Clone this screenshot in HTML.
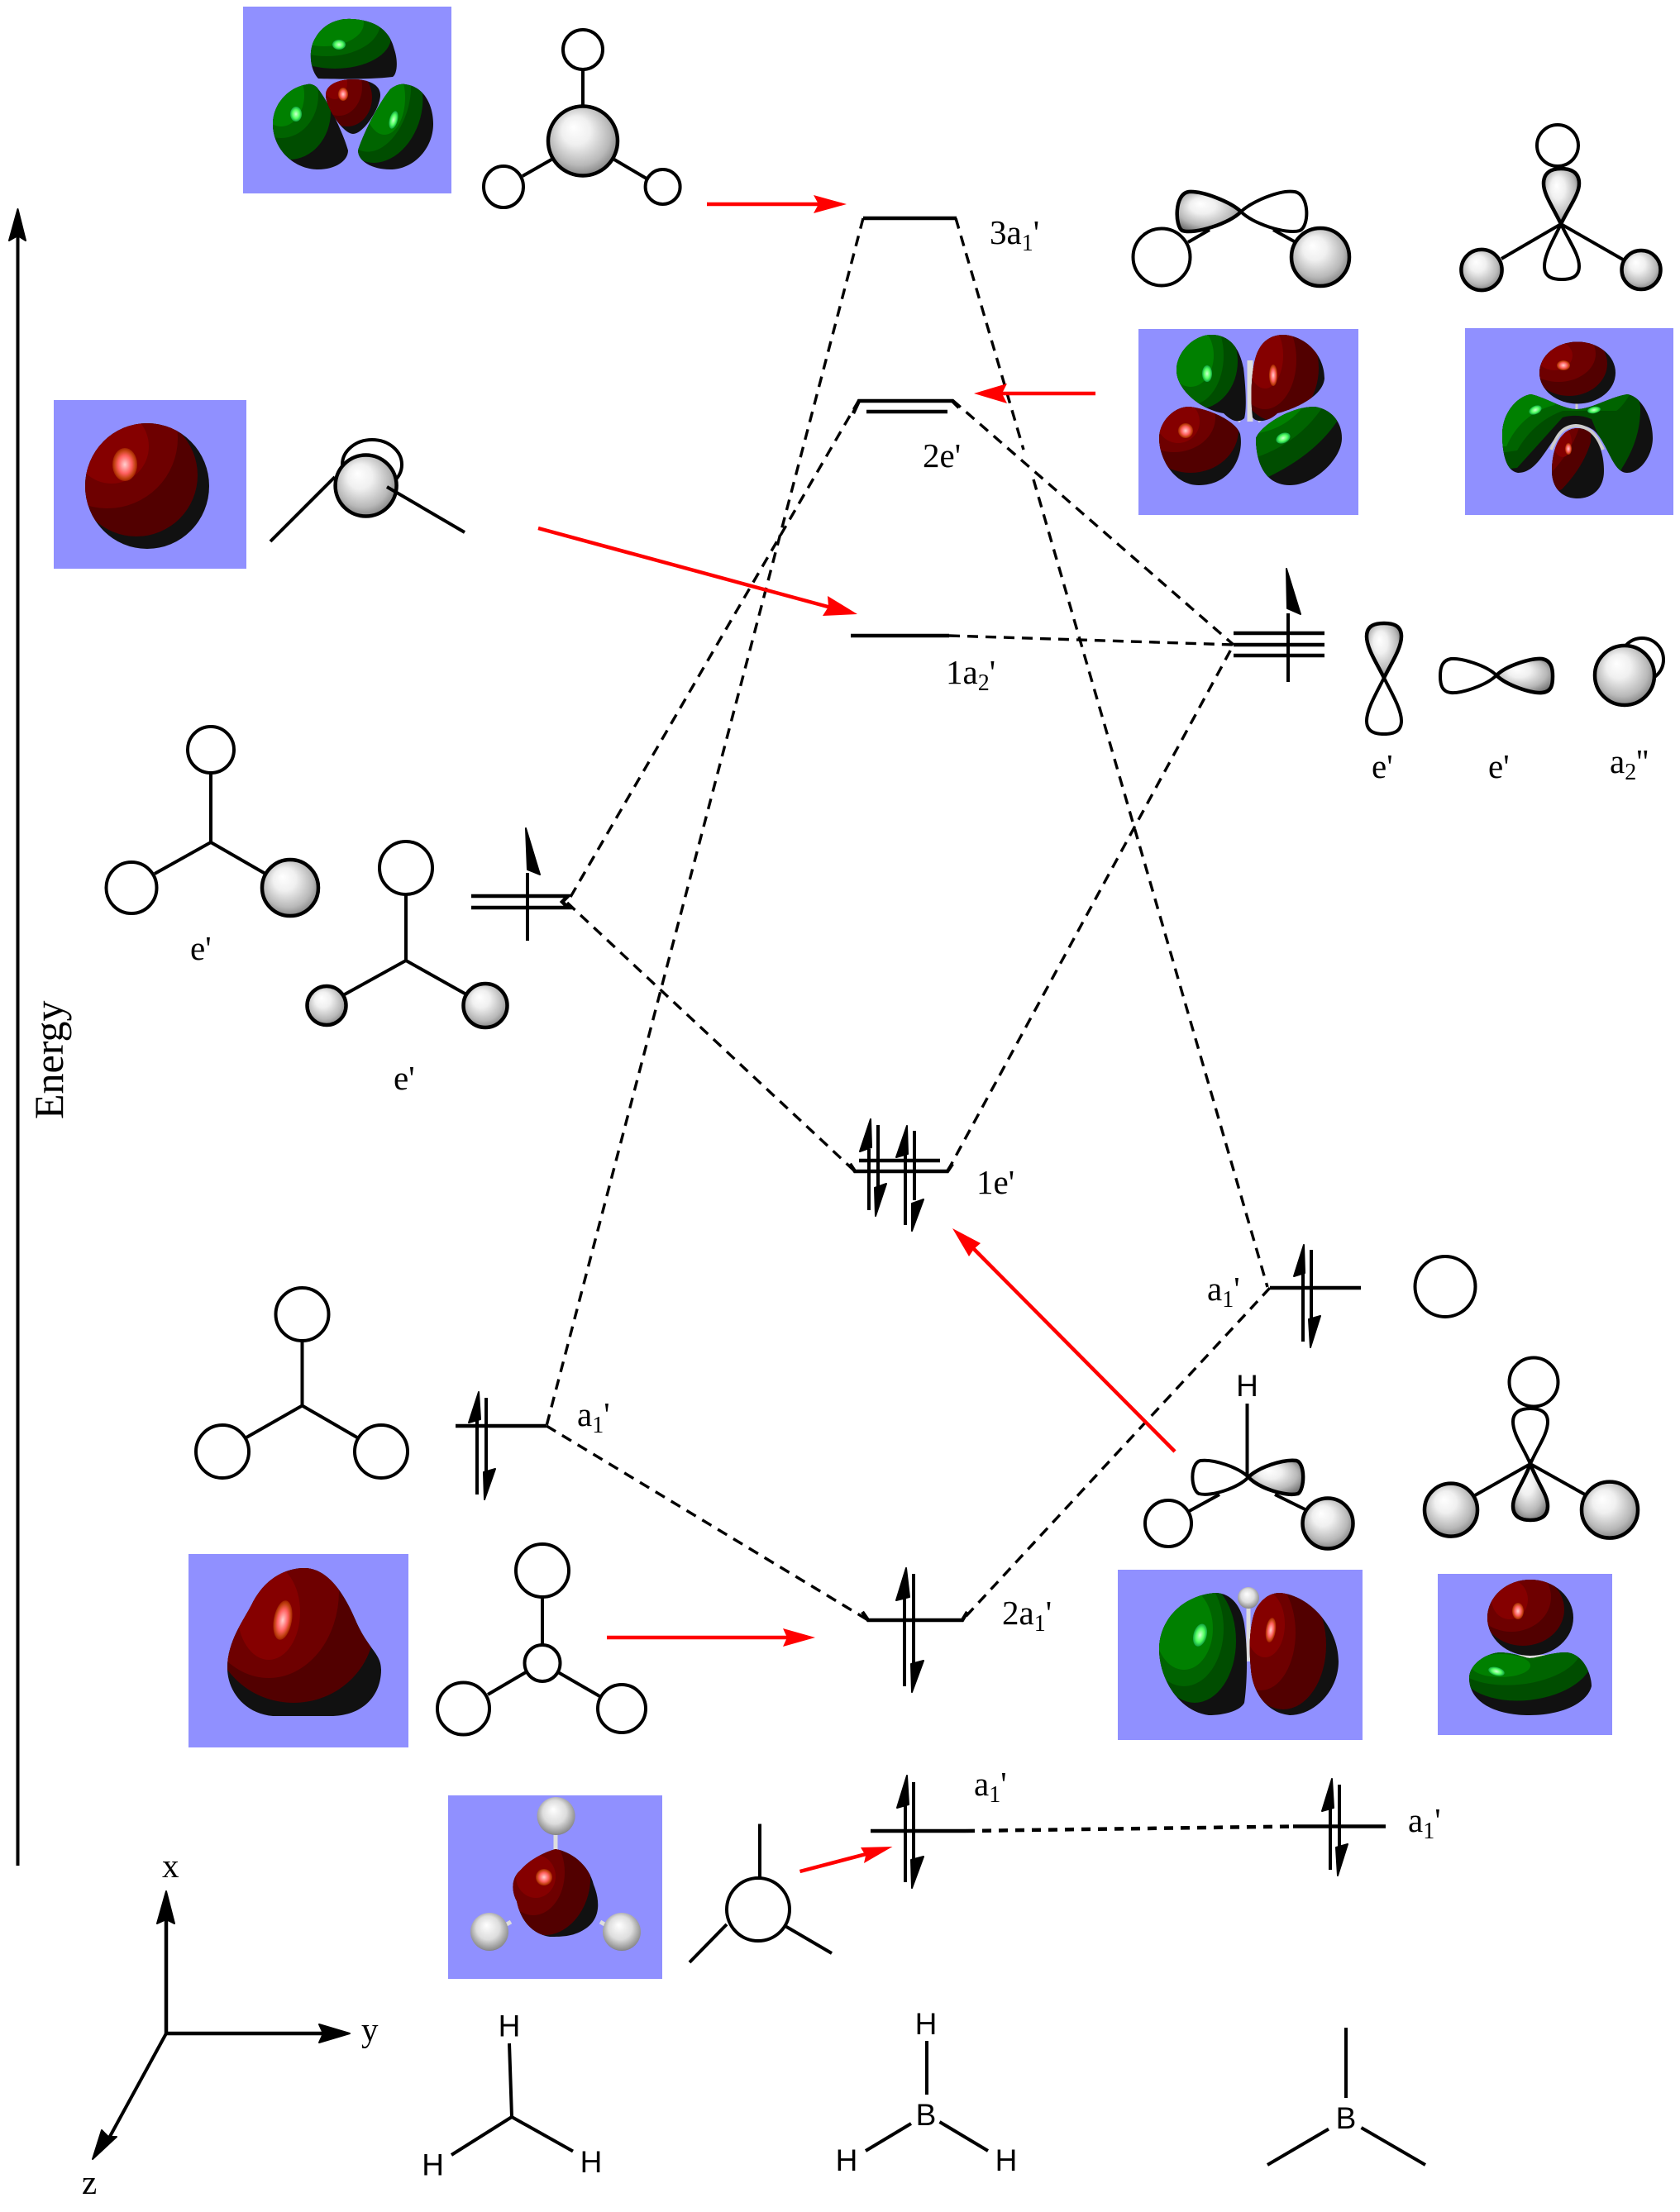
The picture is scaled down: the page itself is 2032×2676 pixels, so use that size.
<!DOCTYPE html>
<html><head><meta charset="utf-8">
<style>
html,body{margin:0;padding:0;background:#fff}
svg{display:block}
.t{font-family:"Liberation Serif",serif;font-size:41px;fill:#000}
.s{font-family:"Liberation Sans",sans-serif;font-size:37px;fill:#000;text-anchor:middle}
.l{stroke:#000;stroke-width:4;fill:none}
.lv{stroke:#000;stroke-width:4.5;fill:none}
.d{stroke:#000;stroke-width:3.4;stroke-dasharray:13 9;fill:none}
.w{fill:#fff;stroke:#000;stroke-width:4}
.g{fill:url(#gray);stroke:#000;stroke-width:4.5}
.bl{fill:#9090ff}
.k{fill:#000;stroke:#000;stroke-width:2;stroke-linejoin:round}
.rd{fill:#520000}.rm{fill:#6e0000}.rl{fill:#850000}
.gd{fill:#004d00}.gm{fill:#006400}.gl{fill:#008000}
.hr{fill:url(#hr)}.hg{fill:url(#hg)}
.red{stroke:#f00;stroke-width:4.5;fill:none}
.rf{fill:#f00}
</style></head>
<body>
<svg xmlns="http://www.w3.org/2000/svg" width="2032" height="2676" viewBox="0 0 2032 2676">
<defs>
<radialGradient id="gray" cx=".5" cy=".47" r=".68" fx=".36" fy=".3">
<stop offset="0" stop-color="#fff"/><stop offset=".3" stop-color="#f0f0f0"/><stop offset=".65" stop-color="#b8b8b8"/><stop offset=".9" stop-color="#707070"/><stop offset="1" stop-color="#404040"/>
</radialGradient>
<radialGradient id="ball" cx=".5" cy=".47" r=".62" fx=".42" fy=".32">
<stop offset="0" stop-color="#fff"/><stop offset=".5" stop-color="#ddd"/><stop offset=".85" stop-color="#8e8e8e"/><stop offset="1" stop-color="#555"/>
</radialGradient>
<radialGradient id="hr"><stop offset="0" stop-color="#ffd0d0"/><stop offset=".55" stop-color="#ff6060"/><stop offset=".85" stop-color="#c04010"/><stop offset="1" stop-color="#a02000"/></radialGradient>
<radialGradient id="hg"><stop offset="0" stop-color="#d0ffd0"/><stop offset=".6" stop-color="#50ff60"/><stop offset="1" stop-color="#10a040"/></radialGradient>
<clipPath id="c1"><path d="M385,95 C375,85 372,60 382,45 C392,28 410,22 425,23 C445,24 470,30 477,60 C482,75 480,90 475,93 C450,96 410,96 385,95Z"/></clipPath>
<clipPath id="c2"><path d="M372,102 C350,105 330,125 330,150 C330,180 355,205 385,205 C405,205 421,195 421,182 C415,160 395,120 385,108 C382,103 376,101 372,102Z"/></clipPath>
<clipPath id="c3"><path d="M490,102 C515,105 524,130 524,150 C524,180 500,205 472,205 C450,205 433,195 433,182 C440,160 458,125 472,108 C478,103 485,101 490,102Z"/></clipPath>
<clipPath id="c4"><path d="M394,115 C394,102 410,96 427,96 C445,96 460,102 460,115 C460,130 440,162 427,162 C415,162 394,130 394,115Z"/></clipPath>
<clipPath id="c5"><ellipse cx="178" cy="588" rx="75" ry="76"/></clipPath>
<clipPath id="c6"><path d="M1465,405 C1490,405 1500,425 1504,445 C1507,470 1508,495 1505,506 C1498,512 1490,510 1480,500 C1450,495 1423,470 1423,448 C1423,425 1445,405 1465,405Z"/></clipPath>
<clipPath id="c7"><path d="M1553,405 C1580,407 1602,430 1602,458 C1600,480 1565,495 1545,500 C1535,510 1520,512 1515,505 C1512,480 1514,450 1518,435 C1523,415 1535,405 1553,405Z"/></clipPath>
<clipPath id="c8"><path d="M1438,492 C1465,495 1495,510 1500,525 C1505,550 1490,587 1450,587 C1420,587 1402,555 1402,530 C1402,510 1420,492 1438,492Z"/></clipPath>
<clipPath id="c9"><path d="M1590,492 C1610,495 1623,510 1623,530 C1623,555 1590,587 1560,587 C1530,587 1519,560 1519,530 C1525,515 1560,492 1590,492Z"/></clipPath>
<clipPath id="c10"><ellipse cx="1908" cy="451" rx="46" ry="37.5"/></clipPath>
<clipPath id="c11"><path d="M1852,477 C1870,481 1890,495 1907,495 C1925,495 1945,481 1968,477 C1985,479 1999,505 1999,530 C1999,550 1985,572 1968,572 C1950,572 1945,535 1927,520 C1915,512 1900,512 1888,522 C1870,540 1860,572 1836,572 C1822,570 1817,550 1817,525 C1817,500 1835,479 1852,477Z"/></clipPath>
<clipPath id="c12"><path d="M1908,518 C1927,518 1940,540 1940,570 C1940,590 1927,603 1908,603 C1889,603 1877,590 1877,570 C1877,540 1889,518 1908,518Z"/></clipPath>
<clipPath id="c13"><path d="M368,1897 C395,1897 415,1925 430,1960 C445,1995 461,2000 461,2020 C461,2050 440,2076 400,2076 L330,2076 C295,2073 275,2045 275,2018 C275,1985 295,1960 305,1940 C320,1910 345,1897 368,1897Z"/></clipPath>
<clipPath id="c14"><path d="M1470,1927 C1490,1927 1502,1945 1505,1965 C1510,2000 1508,2040 1505,2060 C1500,2070 1480,2075 1462,2075 C1425,2070 1402,2030 1402,1995 C1402,1960 1430,1930 1470,1927Z"/></clipPath>
<clipPath id="c15"><path d="M1548,1927 C1585,1930 1619,1970 1619,2010 C1619,2045 1590,2075 1560,2075 C1530,2072 1515,2045 1513,2020 C1510,1990 1512,1960 1520,1945 C1528,1932 1538,1927 1548,1927Z"/></clipPath>
<clipPath id="c16"><ellipse cx="1851" cy="1957" rx="52" ry="46"/></clipPath>
<clipPath id="c17"><path d="M1815,1999 C1835,2000 1845,2006 1850,2006 C1860,2006 1875,1999 1895,1999 C1915,2001 1925,2025 1925,2040 C1920,2060 1890,2075 1850,2075 C1810,2075 1777,2060 1777,2030 C1777,2015 1795,2000 1815,1999Z"/></clipPath>
<clipPath id="c18"><path d="M672,2237 C690,2240 712,2255 718,2280 C726,2300 726,2320 710,2332 C695,2343 680,2343 665,2343 C645,2340 630,2325 625,2300 C617,2285 620,2270 630,2262 C640,2250 660,2240 672,2237Z"/></clipPath>
</defs>
<rect width="2032" height="2676" fill="#fff"/>

<!-- blue panels -->
<rect class="bl" x="294" y="8" width="252" height="226"/>
<rect class="bl" x="65" y="484" width="233" height="204"/>
<rect class="bl" x="1377" y="398" width="266" height="225"/>
<rect class="bl" x="1772" y="397" width="252" height="226"/>
<rect class="bl" x="228" y="1880" width="266" height="234"/>
<rect class="bl" x="1352" y="1899" width="296" height="206"/>
<rect class="bl" x="1739" y="1904" width="211" height="195"/>
<rect class="bl" x="542" y="2172" width="259" height="222"/>

<!-- orbital blobs: panel 1 -->
<g clip-path="url(#c1)"><rect width="2032" height="2676" fill="#111"/><ellipse class="gd" cx="405" cy="45" rx="68" ry="38"/><ellipse class="gm" cx="395" cy="28" rx="65" ry="40"/><ellipse class="gl" cx="392" cy="28" rx="48" ry="28"/><ellipse class="hg" cx="410" cy="54" rx="8" ry="6"/></g>
<g clip-path="url(#c2)"><rect width="2032" height="2676" fill="#111"/><ellipse class="gd" cx="350" cy="135" rx="50" ry="58"/><ellipse class="gm" cx="340" cy="115" rx="45" ry="52"/><ellipse class="gl" cx="340" cy="115" rx="28" ry="38"/><ellipse class="hg" cx="358" cy="138" rx="7" ry="9"/></g>
<g clip-path="url(#c3)"><rect width="2032" height="2676" fill="#111"/><ellipse class="gd" cx="460" cy="130" rx="50" ry="68" transform="rotate(15 460 130)"/><ellipse class="gm" cx="455" cy="120" rx="40" ry="65" transform="rotate(15 455 120)"/><ellipse class="gl" cx="465" cy="118" rx="25" ry="45"/><ellipse class="hg" cx="476" cy="145" rx="5" ry="11" transform="rotate(15 476 145)"/></g>
<g clip-path="url(#c4)"><rect width="2032" height="2676" fill="#111"/><ellipse class="rd" cx="420" cy="118" rx="30" ry="35"/><ellipse class="rm" cx="410" cy="105" rx="28" ry="35"/><ellipse class="rl" cx="405" cy="100" rx="15" ry="20"/><ellipse class="hr" cx="415" cy="114" rx="6" ry="8"/></g>
<!-- panel 2 -->
<g clip-path="url(#c5)"><rect width="2032" height="2676" fill="#111"/><circle class="rd" cx="165" cy="575" r="74"/><circle class="rm" cx="130" cy="530" r="85"/><circle class="rl" cx="135" cy="540" r="45"/><ellipse class="hr" cx="151" cy="562" rx="15" ry="20"/></g>
<!-- panel 3 -->
<path d="M1512,436 V510" stroke="#ddd" stroke-width="7"/>
<path d="M1500,510 L1490,503 M1522,510 L1532,503" stroke="#ddd" stroke-width="3"/>
<g clip-path="url(#c6)"><rect width="2032" height="2676" fill="#111"/><ellipse class="gd" cx="1448" cy="437" rx="49" ry="58"/><ellipse class="gm" cx="1440" cy="430" rx="40" ry="60"/><ellipse class="gl" cx="1440" cy="430" rx="28" ry="38"/><ellipse class="hg" cx="1460" cy="452" rx="6" ry="10"/></g>
<g clip-path="url(#c7)"><rect width="2032" height="2676" fill="#111"/><ellipse class="rd" cx="1545" cy="445" rx="50" ry="65"/><ellipse class="rm" cx="1530" cy="435" rx="38" ry="60"/><ellipse class="rl" cx="1530" cy="430" rx="22" ry="40"/><ellipse class="hr" cx="1540" cy="454" rx="5" ry="13"/></g>
<g clip-path="url(#c8)"><rect width="2032" height="2676" fill="#111"/><ellipse class="rd" cx="1440" cy="520" rx="58" ry="52"/><ellipse class="rm" cx="1420" cy="505" rx="50" ry="42"/><ellipse class="rl" cx="1425" cy="510" rx="26" ry="26"/><ellipse class="hr" cx="1434" cy="521" rx="9" ry="9"/></g>
<g clip-path="url(#c9)"><rect width="2032" height="2676" fill="#111"/><path class="gd" d="M1500,480 H1630 L1617,510 Q1590,550 1534,577 L1500,590Z"/><path class="gm" d="M1500,480 H1610 L1598,495 Q1570,535 1523,552 L1500,560Z"/><path class="gl" d="M1500,480 H1585 Q1560,520 1515,525Z"/><ellipse class="hg" cx="1552" cy="530" rx="9" ry="6" transform="rotate(-25 1552 530)"/></g>
<!-- panel 4 -->
<path d="M1907,488 V497" stroke="#ccc" stroke-width="3"/>
<g clip-path="url(#c10)"><rect width="2032" height="2676" fill="#111"/><ellipse class="rd" cx="1898" cy="440" rx="46" ry="39"/><ellipse class="rm" cx="1885" cy="428" rx="45" ry="34"/><ellipse class="rl" cx="1880" cy="430" rx="22" ry="18"/><ellipse class="hr" cx="1891" cy="442" rx="8" ry="6"/></g>
<g clip-path="url(#c11)"><rect width="2032" height="2676" fill="#111"/><path class="gd" d="M1800,470 H1980 L1984,492 Q1985,530 1962,566 L1955,580 L1925,507 Q1908,500 1890,505 L1835,566 L1800,570Z"/><path class="gm" d="M1800,470 H1975 Q1965,490 1955,497 L1890,497 Q1855,510 1835,545 L1800,550Z"/><path class="gl" d="M1800,470 H1900 L1880,490 Q1840,500 1822,540 L1800,540Z"/><ellipse class="hg" cx="1857" cy="496" rx="8" ry="5" transform="rotate(-25 1857 496)"/><ellipse class="hg" cx="1928" cy="496" rx="8" ry="4" transform="rotate(-10 1928 496)"/></g>
<path d="M1876,544 C1884,525 1890,516 1906,515 C1922,516 1930,525 1939,544" fill="none" stroke="#ccc" stroke-width="4"/>
<g clip-path="url(#c12)"><rect width="2032" height="2676" fill="#111"/><path class="rd" d="M1870,510 H1925 L1924,535 Q1915,565 1889,592 L1870,600Z"/><path class="rm" d="M1870,510 H1912 Q1905,540 1878,570Z"/><ellipse class="rl" cx="1890" cy="535" rx="11" ry="18"/><ellipse class="hr" cx="1897" cy="543" rx="4" ry="7"/></g>
<!-- panel 5 a1 blob -->
<g clip-path="url(#c13)"><rect width="2032" height="2676" fill="#111"/><ellipse class="rd" cx="355" cy="1965" rx="98" ry="95"/><ellipse class="rm" cx="325" cy="1925" rx="85" ry="105"/><ellipse class="rl" cx="325" cy="1950" rx="38" ry="58"/><ellipse class="hr" cx="342" cy="1960" rx="11" ry="24" transform="rotate(10 342 1960)"/></g>
<!-- panel 6 -->
<path d="M1510,1945 V2010" stroke="#ddd" stroke-width="5"/>
<g clip-path="url(#c14)"><rect width="2032" height="2676" fill="#111"/><ellipse class="gd" cx="1445" cy="1985" rx="50" ry="75"/><ellipse class="gm" cx="1432" cy="1970" rx="48" ry="70"/><ellipse class="gl" cx="1432" cy="1970" rx="35" ry="50"/><ellipse class="hg" cx="1451.5" cy="1978" rx="8" ry="14" transform="rotate(15 1451 1978)"/></g>
<g clip-path="url(#c15)"><rect width="2032" height="2676" fill="#111"/><ellipse class="rd" cx="1552" cy="1990" rx="52" ry="78"/><ellipse class="rm" cx="1525" cy="1975" rx="42" ry="70"/><ellipse class="rl" cx="1530" cy="1965" rx="24" ry="40"/><ellipse class="hr" cx="1537" cy="1972" rx="6" ry="15" transform="rotate(8 1537 1972)"/></g>
<ellipse cx="1510" cy="1933" rx="13" ry="13" fill="url(#ball)"/>
<!-- panel 7 -->
<path d="M1835,2004 H1870" stroke="#ddd" stroke-width="4"/>
<g clip-path="url(#c16)"><rect width="2032" height="2676" fill="#111"/><ellipse class="rd" cx="1842" cy="1947" rx="50" ry="44"/><ellipse class="rm" cx="1828" cy="1932" rx="48" ry="42"/><ellipse class="rl" cx="1826" cy="1935" rx="22" ry="24"/><ellipse class="hr" cx="1836" cy="1949" rx="7" ry="10"/></g>
<g clip-path="url(#c17)"><rect width="2032" height="2676" fill="#111"/><ellipse class="gd" cx="1845" cy="2010" rx="82" ry="47" transform="rotate(-6 1845 2010)"/><ellipse class="gm" cx="1835" cy="2000" rx="78" ry="38" transform="rotate(-6 1835 2000)"/><ellipse class="gl" cx="1815" cy="2015" rx="36" ry="14"/><ellipse class="hg" cx="1810" cy="2022" rx="10" ry="5" transform="rotate(15 1810 2022)"/></g>
<!-- panel 8 -->
<path d="M672,2215 V2240 M618,2325 L592,2340 M726,2325 L752,2340" stroke="#ddd" stroke-width="5"/>
<ellipse cx="672.6" cy="2197" rx="23" ry="23" fill="url(#ball)"/>
<ellipse cx="592" cy="2337" rx="23" ry="23" fill="url(#ball)"/>
<ellipse cx="752" cy="2337" rx="23" ry="23" fill="url(#ball)"/>
<g clip-path="url(#c18)"><rect width="2032" height="2676" fill="#111"/><ellipse class="rd" cx="665" cy="2280" rx="48" ry="62" transform="rotate(15 665 2280)"/><ellipse class="rm" cx="645" cy="2265" rx="38" ry="52"/><ellipse class="rl" cx="648" cy="2270" rx="24" ry="26"/><ellipse class="hr" cx="658" cy="2271" rx="10" ry="10"/></g>

<!-- dashed connectors -->
<g>
<path class="d" d="M1044,264 L661,1725"/>
<path class="d" d="M1156,264 L1238,544"/>
<path class="d" d="M1250,580 L1533,1557"/>
<path class="d" d="M1039,484 L686,1092"/>
<path class="d" d="M1152,484 L1492,780"/>
<path class="d" d="M1148,769 L1492,780"/>
<path class="d" d="M686,1092 L1034,1417"/>
<path class="d" d="M1146,1417 L1492,780"/>
<path class="d" d="M661,1725 L1050,1960"/>
<path class="d" d="M1536,1558 L1164,1960"/>
<path d="M1168,2215 L1564,2209.5" fill="none" stroke="#000" stroke-width="4.5" stroke-dasharray="11 9"/>
</g>

<!-- energy levels -->
<path class="lv" d="M1044,264 H1157"/>
<path class="lv" d="M1032,500 L1039,485 H1152 L1160,493"/>
<path class="lv" d="M1048,498 H1146"/>
<path class="lv" d="M1029,769 H1148"/>
<path class="lv" d="M1492,766 H1602 M1492,780 H1602 M1492,793 H1602"/>
<path class="lv" d="M570,1084 H687 L680,1091 L687,1098 H570"/>
<path class="lv" d="M1039,1404 H1137 M1028,1408 L1034,1417 H1146 L1152,1408"/>
<path class="lv" d="M551,1725 H661"/>
<path class="lv" d="M1536,1558 H1646"/>
<path class="lv" d="M1043,1950 L1050,1960 H1164 L1170,1950"/>
<path class="lv" d="M1053,2215 H1168"/>
<path class="lv" d="M1564,2209.5 H1676"/>

<!-- electron arrows -->
<path class="l" d="M1558,742 V825"/><polygon class="k" points="1556,688 1573,743 1557,736"/>
<path class="l" d="M638,1056 V1138"/><polygon class="k" points="636,1002 653,1058 638,1052"/>
<path class="l" d="M1051,1390 V1464 M1062,1361 V1436"/><polygon class="k" points="1053,1354 1054,1388 1040,1393"/><polygon class="k" points="1059,1471 1058,1437 1072,1432"/>
<path class="l" d="M1095,1396 V1482 M1106,1368 V1452"/><polygon class="k" points="1097,1362 1098,1396 1084,1400"/><polygon class="k" points="1103,1489 1103,1456 1117,1451"/>
<path class="l" d="M577,1718 V1808 M588,1691 V1780"/><polygon class="k" points="579,1684 581,1717 567,1721"/><polygon class="k" points="586,1814 585,1781 599,1777"/>
<path class="l" d="M1576,1541 V1623 M1586,1512 V1596"/><polygon class="k" points="1577,1506 1578,1540 1565,1544"/><polygon class="k" points="1585,1630 1583,1596 1597,1592"/>
<path class="l" d="M1094,1932 V2040 M1105,1904 V2012"/><polygon class="k" points="1096,1897 1100,1932 1084,1936"/><polygon class="k" points="1103,2047 1102,2013 1117,2009"/>
<path class="l" d="M1095,2183 V2277 M1105,2156 V2250"/><polygon class="k" points="1097,2148 1099,2183 1085,2187"/><polygon class="k" points="1103,2284 1102,2250 1117,2246"/>
<path class="l" d="M1609,2187 V2262 M1620,2159 V2235"/><polygon class="k" points="1611,2152 1613,2187 1599,2191"/><polygon class="k" points="1618,2269 1616,2235 1630,2231"/>

<!-- Energy axis -->
<path d="M21.5,280 V2257" stroke="#000" stroke-width="4" fill="none"/>
<polygon class="k" points="21.5,253 31,291 21.5,285 11,291"/>
<text class="t" style="font-size:50px" transform="translate(76 1354) rotate(-90)">Energy</text>

<!-- top molecule -->
<path class="l" d="M705,84 V128 M667,193 L632,213 M743,193 L782,216"/>
<ellipse class="w" cx="705" cy="60" rx="24" ry="24"/>
<ellipse class="g" cx="705" cy="170.5" rx="42" ry="42"/>
<ellipse class="w" cx="609" cy="226" rx="24" ry="25"/>
<ellipse class="w" cx="801.6" cy="226" rx="21" ry="21"/>

<!-- a2' left -->
<ellipse class="l" cx="450" cy="562" rx="36" ry="30"/>
<ellipse class="g" cx="442.6" cy="587.5" rx="37" ry="37"/>
<path class="l" d="M327,655 L405,577 M468,589 L562,644"/>

<!-- right top lobes -->
<path class="l" d="M1437,293 L1463,278 M1540,278 L1567,293"/>
<path class="g" d="M1501,256 C1488,244 1455,231 1438,232 C1420,234 1421,274 1430,279 C1445,284 1488,270 1501,256Z"/>
<path class="w" d="M1501,256 C1514,244 1548,229 1566,232 C1584,235 1584,274 1572,279 C1555,284 1514,270 1501,256Z"/>
<ellipse class="w" cx="1405" cy="311" rx="34.5" ry="34.5"/>
<ellipse class="g" cx="1597" cy="311" rx="35" ry="35"/>

<path class="l" d="M1816,313 L1888,271 L1963,314"/>
<ellipse class="w" cx="1884" cy="176" rx="25" ry="25"/>
<path class="w" d="M1888,271 C1878,292 1868,308 1868,322 C1868,336 1879,338 1889,338 C1899,338 1910,336 1910,322 C1910,308 1898,292 1888,271Z"/>
<path class="g" d="M1888,271 C1878,250 1867,235 1867,222 C1867,207 1879,204 1888,204 C1898,204 1910,207 1910,222 C1910,235 1898,250 1888,271Z"/>
<ellipse class="g" cx="1792" cy="326.5" rx="24.6" ry="24.6"/>
<ellipse class="g" cx="1985" cy="326.5" rx="23.5" ry="23.5"/>

<!-- e' and a2'' orbitals right -->
<path class="g" d="M1674,820 C1665,802 1653,784 1653,770 C1653,756 1664,754 1674,754 C1684,754 1695,756 1695,770 C1695,784 1683,802 1674,820Z"/>
<path class="w" d="M1674,820 C1665,838 1653,858 1653,872 C1653,886 1664,888 1674,888 C1684,888 1695,886 1695,872 C1695,858 1683,838 1674,820Z"/>
<path class="w" d="M1810,817 C1798,805 1768,796 1755,797 C1743,799 1742,810 1742,818 C1742,828 1744,837 1755,838 C1768,839 1798,829 1810,817Z"/>
<path class="g" d="M1810,817 C1822,805 1852,796 1865,797 C1877,799 1878,810 1878,818 C1878,828 1877,837 1865,838 C1852,839 1822,829 1810,817Z"/>
<ellipse class="l" cx="1986" cy="798" rx="26" ry="26"/>
<ellipse class="g" cx="1965" cy="817" rx="36" ry="36"/>

<!-- e' molecules left -->
<path class="l" d="M255,935 V1019 L187,1057 M255,1019 L321,1057"/>
<ellipse class="w" cx="255" cy="907" rx="28" ry="28"/>
<ellipse class="w" cx="159" cy="1074" rx="30.5" ry="31"/>
<ellipse class="g" cx="351" cy="1074" rx="34" ry="34"/>
<path class="l" d="M491,1081 V1162 L415,1204 M491,1162 L564,1203"/>
<ellipse class="w" cx="491" cy="1050" rx="32" ry="32"/>
<ellipse class="g" cx="395" cy="1216.5" rx="23.5" ry="23.5"/>
<ellipse class="g" cx="587" cy="1216.5" rx="26.5" ry="26.5"/>

<!-- a1' molecule left -->
<path class="l" d="M365.5,1621 V1700.5 L298,1739 M365.5,1700.5 L432,1739"/>
<ellipse class="w" cx="365.5" cy="1590" rx="32" ry="32"/>
<ellipse class="w" cx="269" cy="1756" rx="32" ry="32"/>
<ellipse class="w" cx="461" cy="1756" rx="32" ry="32"/>

<path class="l" d="M656,1932 V1989 M636,2023 L590,2050 M675,2023 L727,2053"/>
<ellipse class="w" cx="656" cy="1900" rx="32" ry="32"/>
<ellipse class="w" cx="656" cy="2012" rx="21.5" ry="22"/>
<ellipse class="w" cx="560.5" cy="2067" rx="31.5" ry="31.5"/>
<ellipse class="w" cx="752" cy="2067" rx="29" ry="29"/>

<!-- a1' molecules right -->
<ellipse class="w" cx="1748" cy="1556.5" rx="36.5" ry="36.5"/>
<path class="l" d="M1508.5,1698 V1785 M1475,1808 L1438.5,1828 M1542,1808 L1578.5,1826"/>
<path class="w" d="M1510,1787 C1498,1775 1468,1765 1452,1767 C1439,1770 1440,1802 1450,1807 C1465,1811 1498,1800 1510,1787Z"/>
<path class="g" d="M1510,1787 C1522,1775 1552,1765 1568,1767 C1579,1770 1578,1802 1570,1807 C1555,1811 1522,1800 1510,1787Z"/>
<ellipse class="w" cx="1413" cy="1843" rx="28" ry="28"/>
<ellipse class="g" cx="1606" cy="1843" rx="30.5" ry="30.5"/>
<ellipse class="w" cx="1855" cy="1672" rx="29.5" ry="29.5"/>
<path class="l" d="M1784,1809 L1851,1771 L1917,1808"/>
<path class="w" d="M1851,1771 C1842,1750 1830,1735 1830,1720 C1830,1707 1841,1704 1851,1704 C1861,1704 1872,1707 1872,1720 C1872,1735 1860,1750 1851,1771Z"/>
<path class="g" d="M1851,1771 C1842,1795 1830,1808 1830,1822 C1830,1836 1841,1839 1851,1839 C1861,1839 1872,1836 1872,1822 C1872,1808 1860,1795 1851,1771Z"/>
<ellipse class="g" cx="1755" cy="1826.6" rx="32" ry="32"/>
<ellipse class="g" cx="1947" cy="1826.6" rx="34" ry="34"/>

<!-- bottom ring -->
<path class="l" d="M919,2206.5 V2271 M879,2328 L834,2374 M949,2329.6 L1006,2363"/>
<ellipse class="w" cx="917" cy="2310" rx="38" ry="38"/>

<!-- red arrows -->
<path class="red" d="M855,247 H990"/><polygon class="rf" points="1024,247 984,236 990,247 984,258"/>
<path class="red" d="M1325,476 H1210"/><polygon class="rf" points="1178,476 1218,464 1212,476 1218,488"/>
<path class="red" d="M651,639 L1005,735"/><polygon class="rf" points="1037,743 1001,721 1002,734 995,745"/>
<path class="red" d="M734,1981 H955"/><polygon class="rf" points="986,1981 947,1970 952,1981 947,1992"/>
<path class="red" d="M1421,1756 L1175,1508"/><polygon class="rf" points="1152,1486 1186,1504 1178,1511 1172,1520"/>
<path class="red" d="M967.5,2264 L1055,2241"/><polygon class="rf" points="1079.5,2234 1041,2235 1047,2245 1045,2254"/>

<!-- coordinate axes -->
<path d="M201,2320 V2460 H395" stroke="#000" stroke-width="4.5" fill="none"/>
<path class="l" d="M201,2460 L130,2590"/>
<polygon class="k" points="201,2288 211,2327 201,2322 190,2327"/>
<polygon class="k" points="423,2460 386,2449 391,2460 386,2471"/>
<polygon class="k" points="112,2612 123,2577 131,2585 141,2585"/>

<!-- CH3, BH3 skeletons -->
<path class="l" d="M616,2472 L619,2561 L546,2607 M619,2561 L693,2602.5"/>
<path class="l" d="M1121,2469 V2534 M1102,2569 L1047,2602 M1136.5,2567 L1195,2602"/>
<path class="l" d="M1628,2453 V2538 M1607,2575.6 L1533,2619 M1646.5,2574 L1724,2619"/>

<!-- labels -->
<text class="t" x="1197" y="295">3a<tspan font-size="28" dy="8">1</tspan><tspan dy="-8">'</tspan></text>
<text class="t" x="1116" y="565">2e'</text>
<text class="t" x="1144" y="827">1a<tspan font-size="28" dy="8">2</tspan><tspan dy="-8">'</tspan></text>
<text class="t" x="1659" y="941">e'</text>
<text class="t" x="1800" y="941">e'</text>
<text class="t" x="1947" y="935">a<tspan font-size="28" dy="8">2</tspan><tspan dy="-8">''</tspan></text>
<text class="t" x="230" y="1161">e'</text>
<text class="t" x="476" y="1318">e'</text>
<text class="t" x="1181" y="1444">1e'</text>
<text class="t" x="698" y="1725">a<tspan font-size="28" dy="8">1</tspan><tspan dy="-8">'</tspan></text>
<text class="t" x="1460" y="1573">a<tspan font-size="28" dy="8">1</tspan><tspan dy="-8">'</tspan></text>
<text class="t" x="1212" y="1965">2a<tspan font-size="28" dy="8">1</tspan><tspan dy="-8">'</tspan></text>
<text class="t" x="1178" y="2172">a<tspan font-size="28" dy="8">1</tspan><tspan dy="-8">'</tspan></text>
<text class="t" x="1703" y="2216">a<tspan font-size="28" dy="8">1</tspan><tspan dy="-8">'</tspan></text>
<text class="t" x="196" y="2271">x</text>
<text class="t" x="437" y="2469">y</text>
<text class="t" x="99" y="2654">z</text>
<text class="s" x="1508.5" y="1689">H</text>
<text class="s" x="616" y="2463.6">H</text>
<text class="s" x="523.6" y="2631.5">H</text>
<text class="s" x="715" y="2628">H</text>
<text class="s" x="1120" y="2461">H</text>
<text class="s" x="1120" y="2571">B</text>
<text class="s" x="1024" y="2626">H</text>
<text class="s" x="1217" y="2626">H</text>
<text class="s" x="1628" y="2575">B</text>
</svg>
</body></html>
